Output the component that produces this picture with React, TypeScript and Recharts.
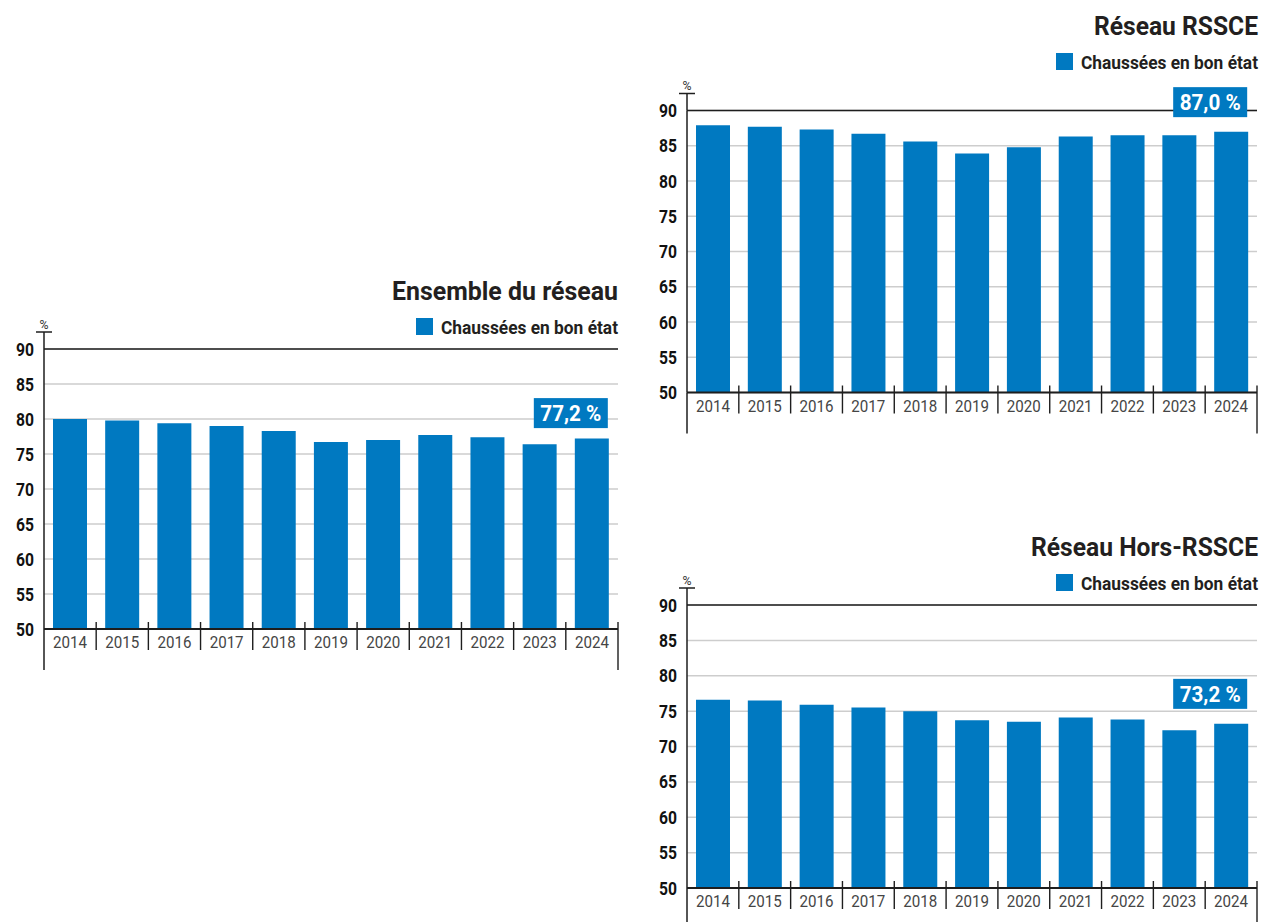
import React from 'react';
import { BarChart, Bar, XAxis, YAxis, CartesianGrid, ReferenceLine, LabelList } from 'recharts';

const FONT = "Roboto, 'Noto Sans', 'DejaVu Sans', sans-serif";
const BLUE = '#0079c1';
const DARK = '#1e1e1e';
const GRID = '#cdcdcd';
const INK = '#231f20';

const YEARS = ['2014', '2015', '2016', '2017', '2018', '2019', '2020', '2021', '2022', '2023', '2024'];
const ENSEMBLE_VALUES = [80.0, 79.8, 79.4, 79.0, 78.3, 76.7, 77.0, 77.7, 77.4, 76.4, 77.2];
const RSSCE_VALUES = [87.9, 87.7, 87.3, 86.7, 85.6, 83.9, 84.8, 86.3, 86.5, 86.5, 87.0];
const HORS_RSSCE_VALUES = [76.6, 76.5, 75.9, 75.5, 75.0, 73.7, 73.5, 74.1, 73.8, 72.3, 73.2];
const Y_TICKS = [50, 55, 60, 65, 70, 75, 80, 85, 90];
const Y_MIN = 50;
const Y_MAX = 90;
const SERIES_NAME = 'Chaussées en bon état';
const UNIT = '%';

const buildData = (values: number[]) => YEARS.map((year, i) => ({ year, value: values[i] }));
const fmt = (v: number) => v.toFixed(1).replace('.', ',') + ' %';

function YTick(props: any) {
  const { x, y, payload } = props;
  const axisX = x + 10;
  const v = payload.value;
  return (
    <g>
      <text
        x={x - 18}
        y={y + 6.6}
        textLength={18}
        lengthAdjust="spacingAndGlyphs"
        fontFamily={FONT}
        fontWeight={700}
        fontSize={18.5}
        fill="#111"
      >
        {v}
      </text>
      {v === Y_MAX && (
        <g>
          <line x1={axisX} x2={axisX} y1={y - 17} y2={y} stroke={DARK} strokeWidth={1.5} />
          <line x1={axisX - 8} x2={axisX + 8} y1={y - 17} y2={y - 17} stroke={DARK} strokeWidth={1.5} />
          <text
            x={axisX - 4.5}
            y={y - 20.5}
            textLength={9}
            lengthAdjust="spacingAndGlyphs"
            fontFamily={FONT}
            fontSize={13}
            fill="#333"
          >
            {UNIT}
          </text>
        </g>
      )}
      {v === Y_MIN && <line x1={axisX} x2={axisX} y1={y} y2={y + 41} stroke={DARK} strokeWidth={1.5} />}
    </g>
  );
}

function XTick(props: any) {
  const { x, y, payload, index } = props;
  const half = payload && typeof payload.offset === 'number' && payload.offset > 0 ? payload.offset : 26;
  const last = index === YEARS.length - 1;
  return (
    <g>
      <text
        x={x - 17}
        y={y + 19}
        textLength={34}
        lengthAdjust="spacingAndGlyphs"
        fontFamily={FONT}
        fontSize={17}
        fill="#454545"
      >
        {payload.value}
      </text>
      {index > 0 && <line x1={x - half} x2={x - half} y1={y - 7} y2={y + 21} stroke={DARK} strokeWidth={1.4} />}
      {last && <line x1={x + half} x2={x + half} y1={y - 7} y2={y + 41} stroke={DARK} strokeWidth={1.4} />}
    </g>
  );
}

function makeAnnotation(gap: number, values: number[]) {
  return function Annotation(props: any) {
    const vb = props.viewBox || {};
    const bx = props.x ?? vb.x;
    const by = props.y ?? vb.y;
    const bw = props.width ?? vb.width;
    const idx = props.index;
    const isLast = typeof idx === 'number' ? idx === values.length - 1 : props.value === values[values.length - 1];
    if (!isLast) return null;
    const w = 74;
    const h = 30;
    const right = bx + bw - 1;
    const bottom = by - gap;
    return (
      <g>
        <rect x={right - w} y={bottom - h} width={w} height={h} fill={BLUE} />
        <text
          x={right - w / 2 - 30.5}
          y={bottom - h / 2 + 7.8}
          textLength={61}
          lengthAdjust="spacingAndGlyphs"
          fontFamily={FONT}
          fontWeight={700}
          fontSize={22}
          fill="#fff"
        >
          {fmt(Number(props.value))}
        </text>
      </g>
    );
  };
}

type PanelProps = {
  title: string;
  titleWidth: number;
  values: number[];
  left: number;
  top: number;
  width: number;
  height: number;
  marginTop: number;
  marginRight: number;
  yAxisWidth: number;
  xAxisHeight: number;
  titleBaseline: number;
  legendBaseline: number;
  rightEdge: number;
  labelGap: number;
};

const LEGEND_TEXT_WIDTH = 177;
const LEGEND_SQUEEZE = 0.94;

function Header(p: PanelProps) {
  return (
    <svg
      width={1262}
      height={922}
      style={{ position: 'absolute', left: 0, top: 0, pointerEvents: 'none' }}
    >
      <text
        x={p.rightEdge}
        y={p.titleBaseline}
        textAnchor="end"
        textLength={p.titleWidth}
        lengthAdjust="spacingAndGlyphs"
        fontFamily={FONT}
        fontWeight={700}
        fontSize={25}
        fill={INK}
      >
        {p.title}
      </text>
      <rect x={p.rightEdge - LEGEND_TEXT_WIDTH - 25} y={p.legendBaseline - 16} width={17} height={17} fill={BLUE} />
      <g transform={`translate(${p.rightEdge} ${p.legendBaseline}) scale(${LEGEND_SQUEEZE} 1)`}>
        <text
          x={0}
          y={0}
          textAnchor="end"
          textLength={LEGEND_TEXT_WIDTH / LEGEND_SQUEEZE}
          lengthAdjust="spacingAndGlyphs"
          fontFamily={FONT}
          fontWeight={700}
          fontSize={18.5}
          fill={INK}
        >
          {SERIES_NAME}
        </text>
      </g>
    </svg>
  );
}

function Panel(p: PanelProps) {
  const data = buildData(p.values);
  const Annotation = makeAnnotation(p.labelGap, p.values);
  return (
    <>
      <div style={{ position: 'absolute', left: p.left, top: p.top, width: p.width, height: p.height }}>
        <BarChart
          width={p.width}
          height={p.height}
          data={data}
          margin={{ top: p.marginTop, right: p.marginRight, bottom: 0, left: 0 }}
        >
          <CartesianGrid horizontal vertical={false} stroke={GRID} strokeWidth={1.5} />
          <XAxis
            dataKey="year"
            type="category"
            interval={0}
            height={p.xAxisHeight}
            tickSize={0}
            tickMargin={0}
            tickLine={false}
            axisLine={{ stroke: DARK, strokeWidth: 2.2 }}
            tick={XTick}
          />
          <YAxis
            type="number"
            domain={[Y_MIN, Y_MAX]}
            ticks={Y_TICKS}
            interval={0}
            width={p.yAxisWidth}
            tickSize={0}
            tickMargin={10}
            tickLine={false}
            axisLine={{ stroke: DARK, strokeWidth: 1.5 }}
            tick={YTick}
          />
          <ReferenceLine y={Y_MAX} stroke={DARK} strokeWidth={1.6} />
          <Bar dataKey="value" fill={BLUE} barSize={34} isAnimationActive={false}>
            <LabelList dataKey="value" content={Annotation} />
          </Bar>
        </BarChart>
      </div>
      <Header {...p} />
    </>
  );
}

export default function App() {
  return (
    <div
      style={{
        position: 'absolute',
        left: 0,
        top: 0,
        width: 1262,
        height: 922,
        background: '#fff',
        overflow: 'hidden',
      }}
    >
      <Panel
        title="Ensemble du réseau"
        titleWidth={226}
        values={ENSEMBLE_VALUES}
        left={0}
        top={270}
        width={640}
        height={410}
        marginTop={79}
        marginRight={22}
        yAxisWidth={44}
        xAxisHeight={51}
        titleBaseline={300}
        legendBaseline={334}
        rightEdge={618}
        labelGap={10.5}
      />
      <Panel
        title="Réseau RSSCE"
        titleWidth={164}
        values={RSSCE_VALUES}
        left={640}
        top={30}
        width={622}
        height={410}
        marginTop={80.5}
        marginRight={5}
        yAxisWidth={47}
        xAxisHeight={47.5}
        titleBaseline={35}
        legendBaseline={69}
        rightEdge={1258}
        labelGap={14.5}
      />
      <Panel
        title="Réseau Hors-RSSCE"
        titleWidth={227}
        values={HORS_RSSCE_VALUES}
        left={640}
        top={560}
        width={622}
        height={362}
        marginTop={45}
        marginRight={5}
        yAxisWidth={47}
        xAxisHeight={34}
        titleBaseline={556}
        legendBaseline={590}
        rightEdge={1258}
        labelGap={15}
      />
    </div>
  );
}
